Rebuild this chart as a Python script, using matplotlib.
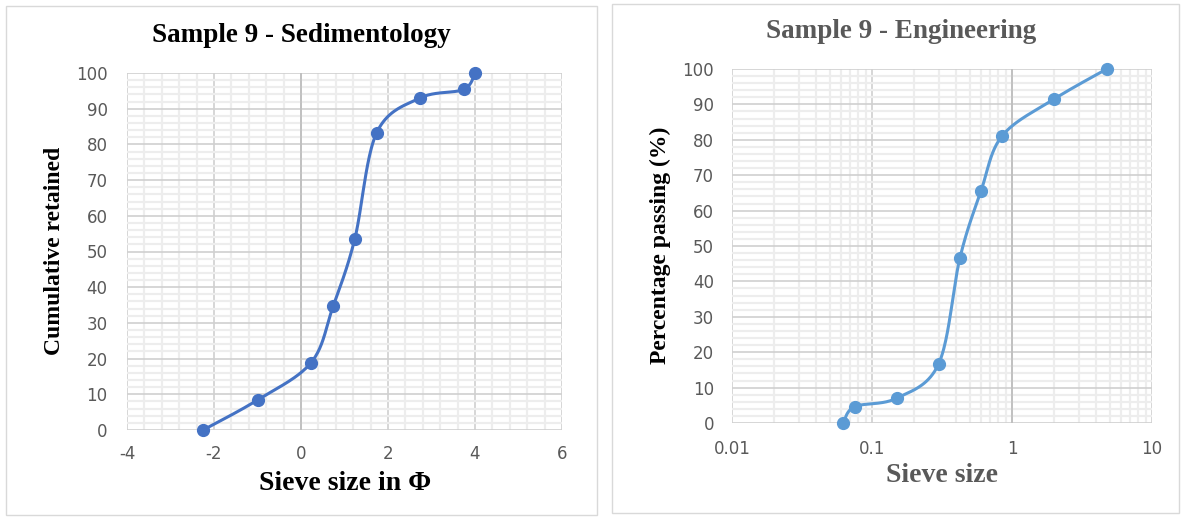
import numpy as np
import matplotlib
matplotlib.use('Agg')
import matplotlib.pyplot as plt
from matplotlib.patches import Rectangle
from matplotlib.ticker import FixedLocator, NullFormatter

# sedimentology: phi vs cumulative retained
phi = [-2.25, -1.0, 0.234, 0.737, 1.234, 1.737, 2.737, 3.737, 4.0]
retained = [0, 8.4, 18.9, 34.6, 53.4, 83.2, 93.0, 95.4, 100]

# engineering: sieve size (mm) vs percentage passing
sieve = [0.0625, 0.075, 0.15, 0.3, 0.425, 0.6, 0.85, 2.0, 4.75]
passing = [0, 4.6, 7.0, 16.8, 46.7, 65.5, 81.1, 91.5, 100]

W, H = 1182, 518
fig = plt.figure(figsize=(W / 100, H / 100), dpi=100)
fig.patch.set_facecolor('white')

serif = 'Liberation Serif'
tickfont = 'DejaVu Sans'
tick_col = '#595959'


def smooth(x, y, n=40):
    # Excel-like smoothed line (Catmull-Rom style bezier)
    p = np.column_stack([x, y]).astype(float)
    ext = np.vstack([p[0], p, p[-1]])
    out = []
    t = np.linspace(0, 1, n)[:, None]
    for i in range(1, len(ext) - 2):
        p0, p1, p2, p3 = ext[i - 1], ext[i], ext[i + 1], ext[i + 2]
        c1 = p1 + (p2 - p0) / 6
        c2 = p2 - (p3 - p1) / 6
        seg = ((1 - t) ** 3) * p1 + 3 * ((1 - t) ** 2) * t * c1 + 3 * (1 - t) * t ** 2 * c2 + t ** 3 * p2
        out.append(seg)
    s = np.vstack(out)
    return s[:, 0], s[:, 1]


def px(x0, y0, x1, y1):
    return [x0 / W, 1 - y1 / H, (x1 - x0) / W, (y1 - y0) / H]


# chart frames
fig.patches.append(Rectangle((6 / W, 1 - 515 / H), 591 / W, 509 / H, transform=fig.transFigure,
                             fill=False, edgecolor='#D9D9D9', lw=1))
fig.patches.append(Rectangle((612 / W, 1 - 513 / H), 567 / W, 509 / H, transform=fig.transFigure,
                             fill=False, edgecolor='#D9D9D9', lw=1))

# ---- left chart ----
ax1 = fig.add_axes(px(127, 73, 562, 430))
ax1.set_xlim(-4, 6)
ax1.set_ylim(0, 100)
ax1.set_xticks(np.arange(-4, 7, 2))
ax1.set_yticks(np.arange(0, 101, 10))
ax1.xaxis.set_minor_locator(FixedLocator(np.arange(-4, 6.01, 0.4)))
ax1.yaxis.set_minor_locator(FixedLocator(np.arange(0, 100.1, 2)))
ax1.grid(which='minor', color='#EDEDED', lw=1.6)
ax1.grid(which='major', color='#D0D0D0', lw=1.2)
ax1.axvline(0, color='#BFBFBF', lw=1.3)
ax1.set_axisbelow(True)
for s in ax1.spines.values():
    s.set_visible(False)
ax1.tick_params(which='both', length=0, labelsize=12, labelcolor=tick_col)
ax1.tick_params(axis='y', pad=14)
ax1.tick_params(axis='x', pad=11)
ax1.set_xticklabels(['-4', '-2', '0', '2', '4', '6'])
for lab in ax1.get_xticklabels() + ax1.get_yticklabels():
    lab.set_fontfamily(tickfont)
xs, ys = (np.array(phi) + 4) / 10, np.array(retained) / 100
sx, sy = smooth(xs, ys)
ax1.plot(sx * 10 - 4, sy * 100, color='#4472C4', lw=2.2, clip_on=False)
ax1.plot(phi, retained, 'o', color='#4472C4', ms=8.5, clip_on=False)

fig.text(301 / W, 1 - 35 / H, 'Sample 9 - Sedimentology', ha='center', va='center',
         fontfamily=serif, fontweight='bold', fontsize=19.5, color='black')
fig.text(55 / W, 1 - 251 / H, 'Cumulative retained', ha='center', va='center', rotation=90,
         fontfamily=serif, fontweight='bold', fontsize=17, color='black')
fig.text(345 / W, 1 - 483 / H, 'Sieve size in Φ', ha='center', va='center',
         fontfamily=serif, fontweight='bold', fontsize=20, color='black')

# ---- right chart ----
ax2 = fig.add_axes(px(732, 69, 1152, 423))
ax2.set_xscale('log')
ax2.set_xlim(0.01, 10)
ax2.set_ylim(0, 100)
ax2.set_xticks([0.01, 0.1, 1, 10])
ax2.set_xticklabels(['0.01', '0.1', '1', '10'])
ax2.set_yticks(np.arange(0, 101, 10))
minors = [m * 10.0 ** d for d in (-2, -1, 0) for m in range(2, 10)]
ax2.xaxis.set_minor_locator(FixedLocator(minors))
ax2.xaxis.set_minor_formatter(NullFormatter())
ax2.yaxis.set_minor_locator(FixedLocator(np.arange(0, 100.1, 2)))
ax2.grid(which='minor', color='#EDEDED', lw=1.6)
ax2.grid(which='major', color='#D0D0D0', lw=1.2)
ax2.axvline(1, color='#BFBFBF', lw=1.3)
ax2.set_axisbelow(True)
for s in ax2.spines.values():
    s.set_visible(False)
ax2.tick_params(which='both', length=0, labelsize=12, labelcolor=tick_col)
ax2.tick_params(axis='y', pad=13)
ax2.tick_params(axis='x', pad=12)
for lab in ax2.get_xticklabels() + ax2.get_yticklabels():
    lab.set_fontfamily(tickfont)
lx = (np.log10(sieve) + 2) / 3
ly = np.array(passing) / 100
sx, sy = smooth(lx, ly)
ax2.plot(10 ** (sx * 3 - 2), sy * 100, color='#5B9BD5', lw=2.2, clip_on=False)
ax2.plot(sieve, passing, 'o', color='#5B9BD5', ms=8.5, clip_on=False)

fig.text(901 / W, 1 - 32 / H, 'Sample 9 - Engineering', ha='center', va='center',
         fontfamily=serif, fontweight='bold', fontsize=19.5, color='#595959')
fig.text(660 / W, 1 - 245 / H, 'Percentage passing (%)', ha='center', va='center', rotation=90,
         fontfamily=serif, fontweight='bold', fontsize=17, color='black')
fig.text(942 / W, 1 - 476 / H, 'Sieve size', ha='center', va='center',
         fontfamily=serif, fontweight='bold', fontsize=20, color='#595959')

fig.savefig('out.png', dpi=100, facecolor='white')
